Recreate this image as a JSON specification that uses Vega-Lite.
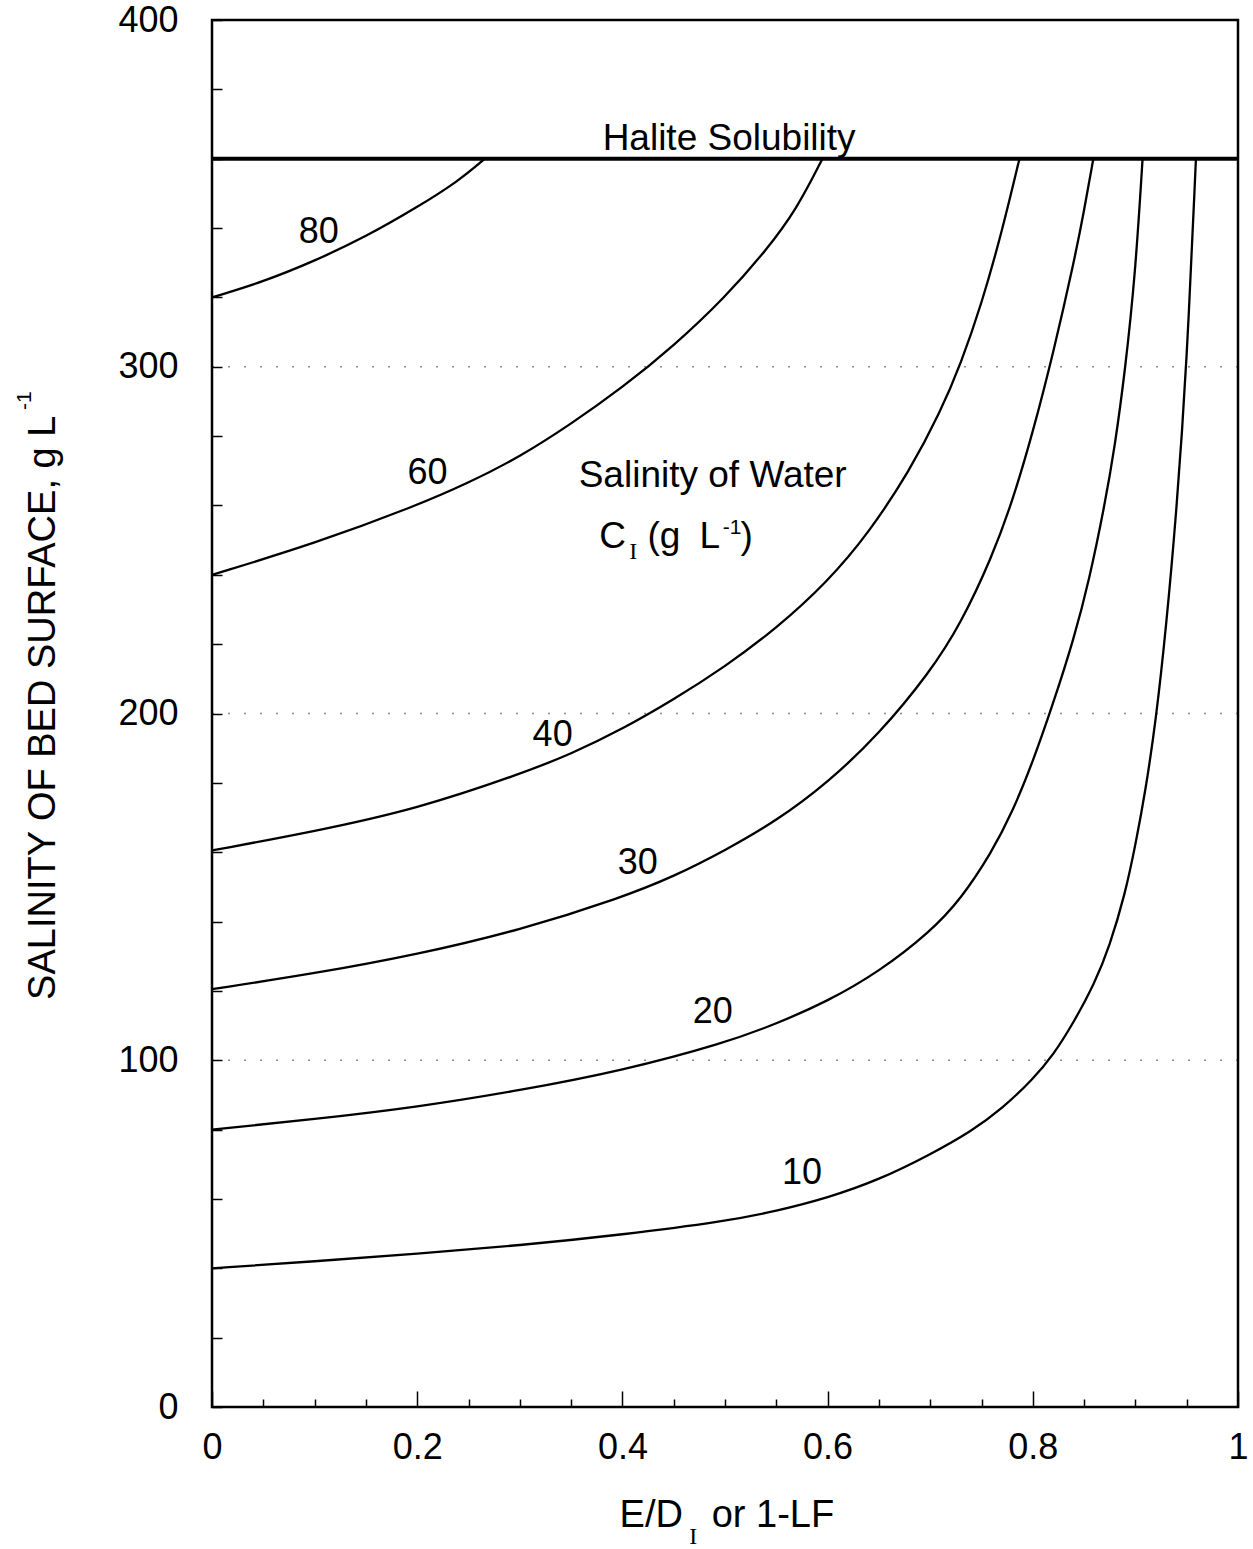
{
  "$schema": "https://vega.github.io/schema/vega-lite/v6.json",
  "width": 1026,
  "height": 1387,
  "autosize": "none",
  "padding": {"left": 212, "top": 20, "right": 15, "bottom": 142},
  "background": "white",
  "config": {
    "view": {"stroke": "black", "strokeWidth": 2.5},
    "font": "Liberation Sans",
    "axis": {
      "domain": false,
      "grid": false,
      "tickColor": "black",
      "tickWidth": 1.5,
      "labelColor": "black",
      "labelFont": "Liberation Sans",
      "labelFontSize": 36,
      "title": null
    }
  },
  "datasets": {
    "curves": [
      {"ci": 10, "r": 0, "s": 40},
      {"ci": 10, "r": 0.1, "s": 42},
      {"ci": 10, "r": 0.2, "s": 44.2},
      {"ci": 10, "r": 0.3, "s": 46.6},
      {"ci": 10, "r": 0.4, "s": 49.7},
      {"ci": 10, "r": 0.5, "s": 53.5},
      {"ci": 10, "r": 0.55, "s": 56.5},
      {"ci": 10, "r": 0.6, "s": 60.3},
      {"ci": 10, "r": 0.65, "s": 65.5},
      {"ci": 10, "r": 0.7, "s": 72.8},
      {"ci": 10, "r": 0.74, "s": 79.5},
      {"ci": 10, "r": 0.77, "s": 86},
      {"ci": 10, "r": 0.8, "s": 94.5},
      {"ci": 10, "r": 0.82, "s": 101.5},
      {"ci": 10, "r": 0.84, "s": 111},
      {"ci": 10, "r": 0.86, "s": 122},
      {"ci": 10, "r": 0.875, "s": 133},
      {"ci": 10, "r": 0.89, "s": 148},
      {"ci": 10, "r": 0.9, "s": 162},
      {"ci": 10, "r": 0.91, "s": 178},
      {"ci": 10, "r": 0.92, "s": 198},
      {"ci": 10, "r": 0.93, "s": 225},
      {"ci": 10, "r": 0.94, "s": 258},
      {"ci": 10, "r": 0.95, "s": 300},
      {"ci": 10, "r": 0.959, "s": 360},

      {"ci": 20, "r": 0, "s": 80},
      {"ci": 20, "r": 0.1, "s": 83},
      {"ci": 20, "r": 0.2, "s": 86.5},
      {"ci": 20, "r": 0.3, "s": 91.3},
      {"ci": 20, "r": 0.4, "s": 97},
      {"ci": 20, "r": 0.5, "s": 105},
      {"ci": 20, "r": 0.55, "s": 110.5},
      {"ci": 20, "r": 0.6, "s": 117},
      {"ci": 20, "r": 0.65, "s": 125.5},
      {"ci": 20, "r": 0.7, "s": 137},
      {"ci": 20, "r": 0.73, "s": 146.5},
      {"ci": 20, "r": 0.76, "s": 160},
      {"ci": 20, "r": 0.78, "s": 171.5},
      {"ci": 20, "r": 0.8, "s": 186},
      {"ci": 20, "r": 0.82, "s": 203},
      {"ci": 20, "r": 0.84, "s": 221.5},
      {"ci": 20, "r": 0.855, "s": 238.5},
      {"ci": 20, "r": 0.87, "s": 260},
      {"ci": 20, "r": 0.88, "s": 277},
      {"ci": 20, "r": 0.89, "s": 299},
      {"ci": 20, "r": 0.9, "s": 327},
      {"ci": 20, "r": 0.907, "s": 360},

      {"ci": 30, "r": 0, "s": 120.5},
      {"ci": 30, "r": 0.1, "s": 125},
      {"ci": 30, "r": 0.2, "s": 130.5},
      {"ci": 30, "r": 0.3, "s": 137.5},
      {"ci": 30, "r": 0.4, "s": 147},
      {"ci": 30, "r": 0.45, "s": 153},
      {"ci": 30, "r": 0.5, "s": 160.5},
      {"ci": 30, "r": 0.55, "s": 169},
      {"ci": 30, "r": 0.6, "s": 180},
      {"ci": 30, "r": 0.65, "s": 194},
      {"ci": 30, "r": 0.7, "s": 212},
      {"ci": 30, "r": 0.73, "s": 226},
      {"ci": 30, "r": 0.76, "s": 245},
      {"ci": 30, "r": 0.78, "s": 261},
      {"ci": 30, "r": 0.8, "s": 281},
      {"ci": 30, "r": 0.82, "s": 304},
      {"ci": 30, "r": 0.84, "s": 330},
      {"ci": 30, "r": 0.85, "s": 345},
      {"ci": 30, "r": 0.859, "s": 360},

      {"ci": 40, "r": 0, "s": 160.5},
      {"ci": 40, "r": 0.1, "s": 166},
      {"ci": 40, "r": 0.2, "s": 172.5},
      {"ci": 40, "r": 0.3, "s": 182.5},
      {"ci": 40, "r": 0.35, "s": 188.3},
      {"ci": 40, "r": 0.4, "s": 195.5},
      {"ci": 40, "r": 0.45, "s": 204},
      {"ci": 40, "r": 0.5, "s": 213.5},
      {"ci": 40, "r": 0.55, "s": 224.5},
      {"ci": 40, "r": 0.6, "s": 238},
      {"ci": 40, "r": 0.64, "s": 252},
      {"ci": 40, "r": 0.68, "s": 270},
      {"ci": 40, "r": 0.71, "s": 287},
      {"ci": 40, "r": 0.73, "s": 301},
      {"ci": 40, "r": 0.75, "s": 318},
      {"ci": 40, "r": 0.77, "s": 339},
      {"ci": 40, "r": 0.787, "s": 360},

      {"ci": 60, "r": 0, "s": 240},
      {"ci": 60, "r": 0.1, "s": 249},
      {"ci": 60, "r": 0.2, "s": 260},
      {"ci": 60, "r": 0.25, "s": 266.5},
      {"ci": 60, "r": 0.3, "s": 274},
      {"ci": 60, "r": 0.35, "s": 283.5},
      {"ci": 60, "r": 0.4, "s": 294},
      {"ci": 60, "r": 0.45, "s": 306},
      {"ci": 60, "r": 0.5, "s": 320},
      {"ci": 60, "r": 0.54, "s": 333.5},
      {"ci": 60, "r": 0.57, "s": 345.5},
      {"ci": 60, "r": 0.595, "s": 360},

      {"ci": 80, "r": 0, "s": 320},
      {"ci": 80, "r": 0.05, "s": 324.5},
      {"ci": 80, "r": 0.1, "s": 330.5},
      {"ci": 80, "r": 0.15, "s": 337.5},
      {"ci": 80, "r": 0.2, "s": 346},
      {"ci": 80, "r": 0.24, "s": 353.5},
      {"ci": 80, "r": 0.266, "s": 360}
    ]
  },
  "layer": [
    {
      "data": {"values": [{"s": 100}, {"s": 200}, {"s": 300}]},
      "mark": {"type": "rule", "color": "black", "strokeWidth": 1.5, "strokeDash": [2, 14], "opacity": 0.45},
      "encoding": {
        "y": {"field": "s", "type": "quantitative", "scale": {"domain": [0, 400], "nice": false, "zero": false}}
      }
    },
    {
      "data": {"values": [{"s": 360}]},
      "mark": {"type": "rule", "color": "black", "strokeWidth": 4},
      "encoding": {
        "y": {"field": "s", "type": "quantitative"}
      }
    },
    {
      "data": {"name": "curves"},
      "mark": {"type": "line", "color": "black", "strokeWidth": 2.3, "interpolate": "basis"},
      "encoding": {
        "x": {
          "field": "r", "type": "quantitative",
          "scale": {"domain": [0, 1], "nice": false, "zero": false},
          "axis": {
            "values": [0, 0.05, 0.1, 0.15, 0.2, 0.25, 0.3, 0.35, 0.4, 0.45, 0.5, 0.55, 0.6, 0.65, 0.7, 0.75, 0.8, 0.85, 0.9, 0.95, 1],
            "format": "~g",
            "labelExpr": "abs(datum.value * 5 - round(datum.value * 5)) < 0.001 ? datum.label : ''",
            "tickSize": {"condition": {"test": "abs(datum.value * 5 - round(datum.value * 5)) < 0.001", "value": -16}, "value": -8},
            "labelPadding": 39,
            "labelFlush": false,
            "labelOverlap": false
          }
        },
        "y": {
          "field": "s", "type": "quantitative",
          "scale": {"domain": [0, 400], "nice": false, "zero": false},
          "axis": {
            "values": [0, 20, 40, 60, 80, 100, 120, 140, 160, 180, 200, 220, 240, 260, 280, 300, 320, 340, 360, 380, 400],
            "labelExpr": "datum.value % 100 === 0 ? datum.label : ''",
            "tickSize": -10,
            "labelPadding": 44,
            "labelOverlap": false
          }
        },
        "detail": {"field": "ci", "type": "nominal"}
      }
    },
    {
      "data": {"values": [
        {"r": 0.104, "s": 335.7, "t": "80"},
        {"r": 0.21, "s": 266.2, "t": "60"},
        {"r": 0.332, "s": 190.6, "t": "40"},
        {"r": 0.415, "s": 153.7, "t": "30"},
        {"r": 0.488, "s": 110.7, "t": "20"},
        {"r": 0.575, "s": 64.3, "t": "10"}
      ]},
      "mark": {"type": "text", "font": "Liberation Sans", "fontSize": 36, "align": "center", "baseline": "alphabetic", "color": "black"},
      "encoding": {
        "x": {"field": "r", "type": "quantitative"},
        "y": {"field": "s", "type": "quantitative"},
        "text": {"field": "t"}
      }
    },
    {
      "data": {"values": [
        {"r": 0.504, "s": 362.4, "t": "Halite Solubility"},
        {"r": 0.488, "s": 265.3, "t": "Salinity of Water"}
      ]},
      "mark": {"type": "text", "font": "Liberation Sans", "fontSize": 37, "align": "center", "baseline": "alphabetic", "color": "black"},
      "encoding": {
        "x": {"field": "r", "type": "quantitative"},
        "y": {"field": "s", "type": "quantitative"},
        "text": {"field": "t"}
      }
    },
    {
      "data": {"values": [
        {"r": 0.3775, "s": 247.7, "t": "C"},
        {"r": 0.4244, "s": 247.7, "t": "(g"},
        {"r": 0.4752, "s": 247.7, "t": "L"},
        {"r": 0.5152, "s": 247.7, "t": ")"}
      ]},
      "mark": {"type": "text", "font": "Liberation Sans", "fontSize": 37, "align": "left", "baseline": "alphabetic", "color": "black"},
      "encoding": {
        "x": {"field": "r", "type": "quantitative"},
        "y": {"field": "s", "type": "quantitative"},
        "text": {"field": "t"}
      }
    },
    {
      "data": {"values": [
        {"r": 0.4977, "s": 251.8, "t": "-1"}
      ]},
      "mark": {"type": "text", "font": "Liberation Sans", "fontSize": 21, "align": "left", "baseline": "alphabetic", "color": "black"},
      "encoding": {
        "x": {"field": "r", "type": "quantitative"},
        "y": {"field": "s", "type": "quantitative"},
        "text": {"field": "t"}
      }
    },
    {
      "data": {"values": [
        {"r": 0.4105, "s": 244.6, "t": "I"},
        {"r": 0.469, "s": -39.6, "t": "I"}
      ]},
      "mark": {"type": "text", "font": "Liberation Serif", "fontSize": 24, "align": "center", "baseline": "alphabetic", "color": "black"},
      "encoding": {
        "x": {"field": "r", "type": "quantitative"},
        "y": {"field": "s", "type": "quantitative"},
        "text": {"field": "t"}
      }
    },
    {
      "data": {"values": [
        {"r": 0.459, "s": -34.6, "t": "E/D"}
      ]},
      "mark": {"type": "text", "font": "Liberation Sans", "fontSize": 38, "align": "right", "baseline": "alphabetic", "color": "black"},
      "encoding": {
        "x": {"field": "r", "type": "quantitative"},
        "y": {"field": "s", "type": "quantitative"},
        "text": {"field": "t"}
      }
    },
    {
      "data": {"values": [
        {"r": 0.487, "s": -34.6, "t": "or 1-LF"}
      ]},
      "mark": {"type": "text", "font": "Liberation Sans", "fontSize": 38, "align": "left", "baseline": "alphabetic", "color": "black"},
      "encoding": {
        "x": {"field": "r", "type": "quantitative"},
        "y": {"field": "s", "type": "quantitative"},
        "text": {"field": "t"}
      }
    },
    {
      "data": {"values": [
        {"r": -0.153, "s": 117.4, "t": "SALINITY OF BED SURFACE, g L"}
      ]},
      "mark": {"type": "text", "font": "Liberation Sans", "fontSize": 38, "angle": 270, "align": "left", "baseline": "alphabetic", "color": "black"},
      "encoding": {
        "x": {"field": "r", "type": "quantitative"},
        "y": {"field": "s", "type": "quantitative"},
        "text": {"field": "t"}
      }
    },
    {
      "data": {"values": [
        {"r": -0.176, "s": 287.5, "t": "-1"}
      ]},
      "mark": {"type": "text", "font": "Liberation Sans", "fontSize": 21, "angle": 270, "align": "left", "baseline": "alphabetic", "color": "black"},
      "encoding": {
        "x": {"field": "r", "type": "quantitative"},
        "y": {"field": "s", "type": "quantitative"},
        "text": {"field": "t"}
      }
    }
  ]
}
